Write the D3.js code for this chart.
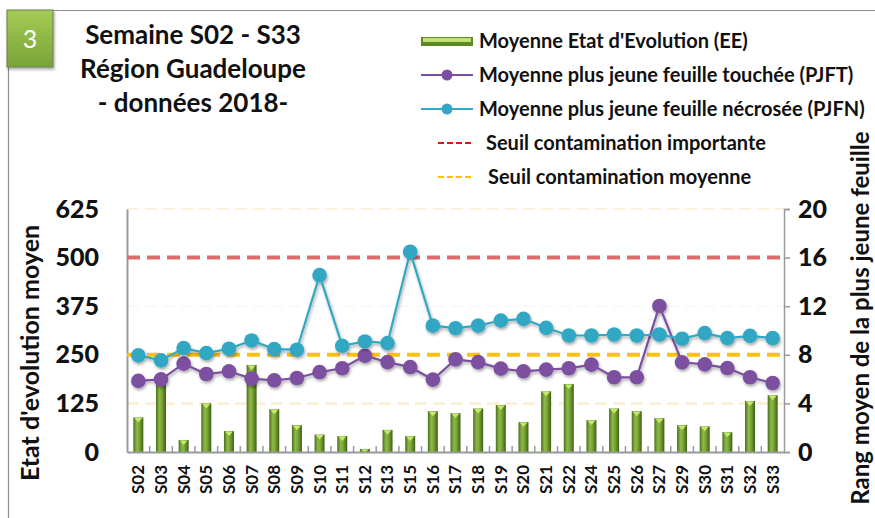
<!DOCTYPE html>
<html>
<head>
<meta charset="utf-8">
<script src="https://cdn.jsdelivr.net/npm/d3@7"></script>
<style>
  body { margin: 0; background: #fff; }
  svg { font-family: Lato, "Open Sans", sans-serif; }
</style>
</head>
<body>
<svg id="chart" width="875" height="518"></svg>
<script>
// ----------------------------------------- Data -----------------------------------------

var weeks = ["S02","S03","S04","S05","S06","S07","S08","S09","S10","S11","S12","S13","S15","S16",
             "S17","S18","S19","S20","S21","S22","S24","S25","S26","S27","S29","S30","S31","S32","S33"];

// Moyenne Etat d'Evolution (EE) - left axis
var eeValues = [89, 185, 31, 125, 54, 224, 110, 69, 45, 41, 8, 57, 41, 105,
                100, 112, 121, 77, 156, 175, 82, 112, 105, 87, 69, 66, 51, 131, 146];

// Moyenne plus jeune feuille touchée (PJFT) - right axis
var pjftValues = [5.85, 5.98, 7.27, 6.42, 6.64, 6.04, 5.9, 6.09, 6.58, 6.89, 7.92, 7.4, 6.99, 5.96,
                  7.62, 7.4, 6.86, 6.64, 6.78, 6.89, 7.19, 6.15, 6.15, 12.02, 7.38, 7.21, 6.91, 6.15, 5.68];

// Moyenne plus jeune feuille nécrosée (PJFN) - right axis
var pjfnValues = [7.95, 7.54, 8.55, 8.14, 8.5, 9.18, 8.47, 8.42, 14.56, 8.74, 9.1, 8.96, 16.48, 10.4,
                  10.19, 10.4, 10.82, 10.96, 10.22, 9.59, 9.59, 9.67, 9.59, 9.67, 9.32, 9.78, 9.37, 9.56, 9.37];

var leftTicks = [0, 125, 250, 375, 500, 625];
var rightTicks = [0, 4, 8, 12, 16, 20];
var seuilImportant = 500;
var seuilMoyen = 250;

var titleLines = ["Semaine S02 - S33", "Région Guadeloupe", "- données 2018-"];
var legendLabels = ["Moyenne Etat d'Evolution (EE)",
                    "Moyenne plus jeune feuille touchée (PJFT)",
                    "Moyenne plus jeune feuille nécrosée (PJFN)",
                    "Seuil contamination importante",
                    "Seuil contamination moyenne"];

// ----------------------------------------- Setup -----------------------------------------

var svg = d3.select('#chart');
var plotLeft = 127, plotRight = 784, plotTop = 209, plotBottom = 452;

var x = d3.scaleBand().domain(weeks).range([plotLeft, plotRight]);
var yL = d3.scaleLinear().domain([0, 625]).range([plotBottom, plotTop]);
var yR = d3.scaleLinear().domain([0, 20]).range([plotBottom, plotTop]);

var defs = svg.append('defs');

var barGrad = defs.append('linearGradient').attr('id', 'barGrad')
    .attr('x1', 0).attr('x2', 1).attr('y1', 0).attr('y2', 0);
barGrad.append('stop').attr('offset', '0%').attr('stop-color', '#4a6f1c');
barGrad.append('stop').attr('offset', '35%').attr('stop-color', '#8fb948');
barGrad.append('stop').attr('offset', '60%').attr('stop-color', '#7aa534');
barGrad.append('stop').attr('offset', '100%').attr('stop-color', '#3e5f16');

var boxGrad = defs.append('linearGradient').attr('id', 'boxGrad')
    .attr('x1', 0).attr('x2', 0).attr('y1', 0).attr('y2', 1);
boxGrad.append('stop').attr('offset', '0%').attr('stop-color', '#a5cc55');
boxGrad.append('stop').attr('offset', '100%').attr('stop-color', '#78a338');

var shadow = defs.append('filter').attr('id', 'shadow')
    .attr('x', '-50%').attr('y', '-50%').attr('width', '200%').attr('height', '200%');
shadow.append('feDropShadow').attr('dx', 1).attr('dy', 2).attr('stdDeviation', 1.5)
    .attr('flood-color', '#000').attr('flood-opacity', 0.35);

// ----------------------------------------- Frame + box -----------------------------------------

svg.append('line').attr('x1', 8).attr('x2', 875).attr('y1', 10.5).attr('y2', 10.5)
    .attr('stroke', '#8c8c8c').attr('stroke-width', 1.2);
svg.append('line').attr('x1', 8.5).attr('x2', 8.5).attr('y1', 10).attr('y2', 518)
    .attr('stroke', '#8c8c8c').attr('stroke-width', 1.2);

svg.append('rect').attr('x', 7).attr('y', 10).attr('width', 46).attr('height', 57)
    .attr('fill', 'url(#boxGrad)').attr('stroke', '#6b7f50').attr('stroke-width', 1)
    .attr('filter', 'url(#shadow)');
svg.append('text').attr('x', 30).attr('y', 48).attr('text-anchor', 'middle')
    .style('font-size', '25px').style('fill', '#fff').text('3');

// Title
svg.append('g').selectAll('text').data(titleLines).enter().append('text')
    .attr('x', 193).attr('y', (d, i) => 44 + i * 34)
    .attr('text-anchor', 'middle')
    .style('font-size', '26px').style('font-weight', 'bold').style('fill', '#111')
    .text(d => d);

// ----------------------------------------- Gridlines / thresholds -----------------------------------------

svg.append('line').attr('x1', plotLeft).attr('x2', plotRight).attr('y1', yL(625)).attr('y2', yL(625))
    .attr('stroke', '#fbf0dc').attr('stroke-width', 2).attr('stroke-dasharray', '12,6');
svg.append('line').attr('x1', plotLeft).attr('x2', plotRight).attr('y1', yL(375)).attr('y2', yL(375))
    .attr('stroke', '#f7f7f7').attr('stroke-width', 1.5).attr('stroke-dasharray', '12,6');
svg.append('line').attr('x1', plotLeft).attr('x2', plotRight).attr('y1', yL(125)).attr('y2', yL(125))
    .attr('stroke', '#fcf1d6').attr('stroke-width', 3).attr('stroke-dasharray', '12,6');

// ----------------------------------------- Bars -----------------------------------------

var barW = 10;
var bars = svg.append('g').selectAll('g.bar').data(weeks).enter().append('g').classed('bar', true);
bars.append('rect')
    .attr('x', d => x(d) + x.bandwidth() / 2 - barW / 2)
    .attr('y', (d, i) => yL(eeValues[i]))
    .attr('width', barW)
    .attr('height', (d, i) => yL(0) - yL(eeValues[i]))
    .attr('fill', 'url(#barGrad)');
bars.append('path')
    .attr('d', (d, i) => {
        var cx = x(d) + x.bandwidth() / 2, ty = yL(eeValues[i]);
        var h = Math.min(5, yL(0) - ty);
        return `M${cx - 4},${ty + 0.5}L${cx + 4},${ty + 0.5}L${cx},${ty + h}Z`;
    })
    .attr('fill', '#c4e86a');

// ----------------------------------------- Axes -----------------------------------------

var axisLeft = svg.append('g').attr('transform', `translate(${plotLeft},0)`)
    .call(d3.axisLeft(yL).tickValues(leftTicks).tickSize(0).tickPadding(28));
axisLeft.select('.domain').attr('stroke', '#9a9a9a').attr('stroke-width', 2);

var axisRight = svg.append('g').attr('transform', `translate(${plotRight},0)`)
    .call(d3.axisRight(yR).tickValues(rightTicks).tickSize(6).tickPadding(8));
axisRight.select('.domain').attr('stroke', '#9a9a9a').attr('stroke-width', 1.5);
axisRight.selectAll('.tick line').attr('stroke', '#9a9a9a').attr('stroke-width', 1.5);

[axisLeft, axisRight].forEach(a => {
    a.selectAll('.tick text').style('font-size', '25px').style('font-weight', '900')
        .style('fill', '#111').style('font-family', 'Lato, sans-serif');
});

var axisBottom = svg.append('g').attr('transform', `translate(0,${plotBottom})`)
    .call(d3.axisBottom(x).tickSize(0));
axisBottom.select('.domain').attr('stroke', '#9a9a9a').attr('stroke-width', 2);
axisBottom.selectAll('.tick text')
    .attr('transform', 'rotate(-90)')
    .attr('x', -13).attr('y', 0).attr('dy', '0.35em')
    .style('text-anchor', 'end')
    .style('font-size', '17px').style('font-weight', 'bold').style('fill', '#111')
    .style('font-family', 'Lato, sans-serif');

// minor ticks between categories
svg.append('g').selectAll('line').data(weeks.slice(1)).enter().append('line')
    .attr('x1', d => x(d)).attr('x2', d => x(d))
    .attr('y1', plotBottom).attr('y2', plotBottom - 6)
    .attr('stroke', '#9a9a9a').attr('stroke-width', 1.5);

// Axis titles
svg.append('text')
    .attr('transform', `translate(39,353) rotate(-90)`)
    .attr('text-anchor', 'middle')
    .style('font-size', '25px').style('font-weight', 'bold').style('fill', '#111')
    .text("Etat d'evolution moyen");
svg.append('text')
    .attr('transform', `translate(869,318) rotate(-90)`)
    .attr('text-anchor', 'middle')
    .style('font-size', '24px').style('font-weight', 'bold').style('fill', '#111')
    .text('Rang moyen de la plus jeune feuille');

// Threshold lines
svg.append('line').attr('x1', plotLeft).attr('x2', plotRight)
    .attr('y1', yL(seuilImportant)).attr('y2', yL(seuilImportant))
    .attr('stroke', '#e06b6b').attr('stroke-width', 4).attr('stroke-dasharray', '13,7');
svg.append('line').attr('x1', plotLeft).attr('x2', plotRight)
    .attr('y1', yL(seuilMoyen)).attr('y2', yL(seuilMoyen))
    .attr('stroke', '#ffc10e').attr('stroke-width', 4).attr('stroke-dasharray', '13,7');

// ----------------------------------------- Lines -----------------------------------------

function drawSeries(values, color) {
    var line = d3.line()
        .x((d, i) => x(weeks[i]) + x.bandwidth() / 2)
        .y(d => yR(d));
    var g = svg.append('g').attr('filter', 'url(#shadow)');
    g.append('path').datum(values)
        .attr('d', line).attr('fill', 'none')
        .attr('stroke', color).attr('stroke-width', 2.2);
    g.selectAll('circle').data(values).enter().append('circle')
        .attr('cx', (d, i) => x(weeks[i]) + x.bandwidth() / 2)
        .attr('cy', d => yR(d))
        .attr('r', 7.3)
        .attr('fill', color);
}
drawSeries(pjftValues, '#7b4fa0');
drawSeries(pjfnValues, '#32a7c4');

// ----------------------------------------- Legend -----------------------------------------

var lg = svg.append('g');
var rowY = [41, 75, 109, 143, 177];

lg.append('rect').attr('x', 421).attr('y', 37).attr('width', 52).attr('height', 9)
    .attr('fill', '#5e8a25');
lg.append('rect').attr('x', 423).attr('y', 38).attr('width', 48).attr('height', 4)
    .attr('fill', '#bfe170');

lg.append('line').attr('x1', 421).attr('x2', 473).attr('y1', rowY[1]).attr('y2', rowY[1])
    .attr('stroke', '#7b4fa0').attr('stroke-width', 2);
lg.append('circle').attr('cx', 447).attr('cy', rowY[1]).attr('r', 5.5).attr('fill', '#7b4fa0');
lg.append('line').attr('x1', 421).attr('x2', 473).attr('y1', rowY[2]).attr('y2', rowY[2])
    .attr('stroke', '#32a7c4').attr('stroke-width', 2);
lg.append('circle').attr('cx', 447).attr('cy', rowY[2]).attr('r', 5.5).attr('fill', '#32a7c4');

lg.append('line').attr('x1', 438).attr('x2', 473).attr('y1', rowY[3]).attr('y2', rowY[3])
    .attr('stroke', '#e0101a').attr('stroke-width', 2).attr('stroke-dasharray', '6,3');
lg.append('line').attr('x1', 438).attr('x2', 473).attr('y1', rowY[4]).attr('y2', rowY[4])
    .attr('stroke', '#ffc000').attr('stroke-width', 2).attr('stroke-dasharray', '6,3');

var textX = [479, 479, 479, 486, 488];
lg.selectAll('text.lab').data(legendLabels).enter().append('text').classed('lab', true)
    .attr('x', (d, i) => textX[i]).attr('y', (d, i) => rowY[i]).attr('dy', '0.35em')
    .style('font-size', '20px').style('font-weight', 'bold').style('fill', '#111')
    .text(d => d);
</script>
</body>
</html>
